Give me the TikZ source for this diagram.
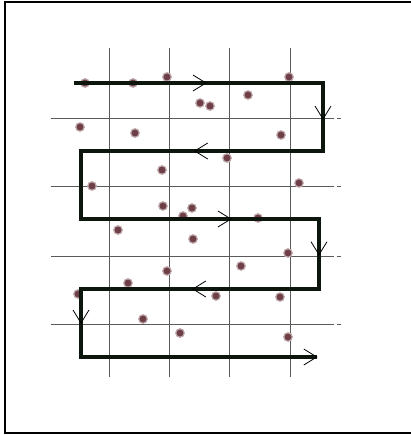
\documentclass[tikz,border=0pt]{standalone}
\usepackage{xcolor}
\usepackage{tikz}
\usetikzlibrary{decorations.markings}
\definecolor{dotred}{HTML}{6E3F47}
\definecolor{gridgray}{HTML}{5A5A5A}
\definecolor{routeblk}{HTML}{0C160C}
\tikzset{
  frameline/.style={draw=black,line width=2pt},
  gridline/.style={gridgray,line width=1pt},
  dotnode/.style={circle,fill=dotred,draw=dotred!45,line width=1.2pt,minimum size=8.5pt,inner sep=0pt},
  route/.style={routeblk,line width=3.4pt,line join=miter},
  chevline/.style={black,line width=0.8pt},
  chevat/.style={postaction={decorate},decoration={markings,
    mark=at position #1 with {\draw[chevline] (-13pt,-8pt) -- (0pt,0pt) -- (-13pt,8pt);}}},
}

\begin{document}
\begin{tikzpicture}[x=1pt,y=-1pt]
  \useasboundingbox (0,0) rectangle (410,435);
  \draw[frameline] (420,2) -- (5,2) -- (5,433) -- (420,433);

  % grid
  \foreach \gx in {109,169,229,290}
    \draw[gridline] (\gx,48) -- (\gx,377);
  \foreach \gy in {119,187,256,324} {
    \draw[gridline] (51,\gy) -- (334,\gy);
    \draw[gridline] (337,\gy) -- (341,\gy);
  }

  % points
  \foreach \px/\py [count=\i] in {85/83,133/83,167/77,289/77,248/95,200/103,210/106,
      80/127,135/133,281/135,227/158,162/170,92/186,299/183,
      163/206,192/208,183/216,258/218,118/230,193/239,288/253,241/266,
      167/271,128/283,78/294,216/296,280/297,143/319,180/333,288/337}
    \node[dotnode] (d\i) at (\px,\py) {};

  % scan route
  \coordinate (r0) at (74,83);
  \coordinate (r1) at (323,83);
  \coordinate (r2) at (323,151);
  \coordinate (r3) at (81,151);
  \coordinate (r4) at (81,219);
  \coordinate (r5) at (319,219);
  \coordinate (r6) at (319,289);
  \coordinate (r7) at (81,289);
  \coordinate (r8) at (81,357);
  \coordinate (r9) at (317,357);
  \draw[route] (r0) -- (r1) -- (r2) -- (r3) -- (r4) -- (r5) -- (r6) -- (r7) -- (r8) -- (r9);

  \path[chevat=0.53] (r0) -- (r1);
  \path[chevat=0.53] (r1) -- (r2);
  \path[chevat=0.53] (r2) -- (r3);
  \path[chevat=0.63] (r4) -- (r5);
  \path[chevat=0.51] (r5) -- (r6);
  \path[chevat=0.53] (r6) -- (r7);
  \path[chevat=0.50] (r7) -- (r8);
  \path[chevat=0.999] (r8) -- (r9);
\end{tikzpicture}
\end{document}
